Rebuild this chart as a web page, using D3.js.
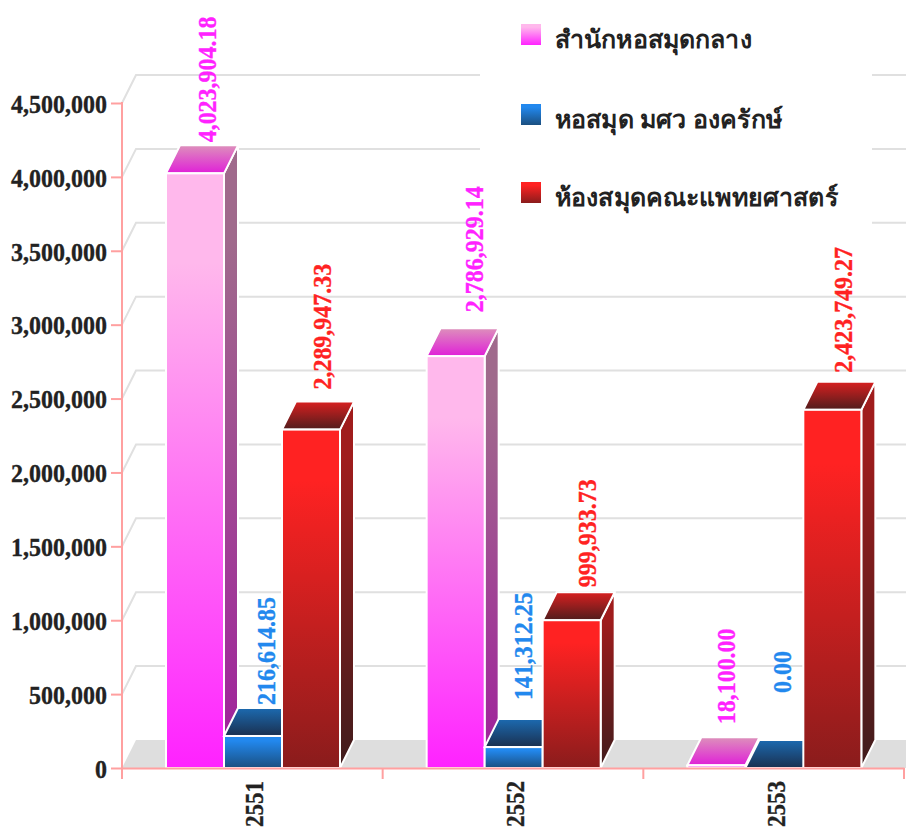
<!DOCTYPE html>
<html><head><meta charset="utf-8">
<script src="https://cdn.jsdelivr.net/npm/d3@7/dist/d3.min.js"></script>
<style>html,body{margin:0;padding:0;background:#fff;overflow:hidden}svg{display:block}
text{font-family:"Liberation Serif","Noto Sans",serif;font-weight:bold}</style>
</head><body><svg id="c" width="906" height="828"></svg>
<script>
const years = ["2551","2552","2553"];
const seriesNames = ["สำนักหอสมุดกลาง","หอสมุด มศว องครักษ์","ห้องสมุดคณะแพทยศาสตร์"];
const centralLibrary = [4023904.18,2786929.14,18100.00];
const ongkharakLibrary = [216614.85,141312.25,0.00];
const medicineLibrary = [2289947.33,999933.73,2423749.27];
const seriesValues = [centralLibrary,ongkharakLibrary,medicineLibrary];
const yTicks = [0,500000,1000000,1500000,2000000,2500000,3000000,3500000,4000000,4500000];
const labelColors = ["#ff22ff","#2288ee","#ff2222"];
// label placement tweaks relative to each bar: [sideways shift, gap above the bar]
const labelNudge = [
 [[-1,3],[5,16],[-3,13]],
 [[0,3],[-4,19],[-5,47]],
 [[-2,12],[2,5],[-2,9]]
];
const palette = [
 {front:["#ffb8ec","#ff22ff"],top:["#dd90bb","#e020d8"],side:["#a06a8c","#a0209c"]},
 {front:["#2288ee","#1a4f80"],top:["#1c6ab0","#1a3050"],side:["#1c6ab0","#1a3050"]},
 {front:["#ff2222","#8a1c1c"],top:["#d82020","#501c1c"],side:["#a01c1c","#401c1c"]}
];
const DX=14, DY=-28;
const svg=d3.select("#c");
const y=d3.scaleLinear().domain([0,4500000]).range([768,103]);
const x=d3.scaleBand().domain(years).range([122,904]);
const s=d3.scaleBand().domain(d3.range(3)).range([44,218]);
const defs=svg.append("defs");
palette.forEach((p,i)=>["front","top","side"].forEach(f=>{
  const g=defs.append("linearGradient").attr("id",`g${i}${f}`).attr("x1",0).attr("x2",0).attr("y1",0).attr("y2",1);
  g.append("stop").attr("offset",0).attr("stop-color",p[f][0]);
  if(f!=="top") g.append("stop").attr("offset",0.15).attr("stop-color",p[f][0]);
  g.append("stop").attr("offset",1).attr("stop-color",p[f][1]);
}));
// floor
svg.append("polygon").attr("fill","#dedede")
 .attr("points",[[122,y(0)],[122+DX,y(0)+DY],[906,y(0)+DY],[906,y(0)]].join(" "));
// grid
const grid=svg.append("g").attr("fill","none").attr("stroke","#e0e0e0").attr("stroke-width",2);
yTicks.slice(1).forEach(t=>{
  grid.append("polyline").attr("points",[[122,y(t)],[122+DX,y(t)+DY],[906,y(t)+DY]].join(" "));
});
// legend backing
svg.append("rect").attr("x",480).attr("y",0).attr("width",392).attr("height",235).attr("fill","#fff");
// bars
const textSquash=0.923;
years.forEach((yr,gi)=>{
  seriesValues.forEach((vals,si)=>{
    const v=vals[gi], x0=x(yr)+s(si), w=s.bandwidth(), yt=y(v), yb=y(0);
    const g=svg.append("g");
    const halo=(sel)=>sel.attr("stroke","#fff").attr("stroke-width",2).attr("stroke-linejoin","miter");
    if(v>0){
      g.append("polygon").attr("points",[[x0+w,yt],[x0+w+DX,yt+DY],[x0+w+DX,yb+DY],[x0+w,yb]].join(" "))
        .attr("fill",`url(#g${si}side)`).call(halo);
    }
    g.append("polygon").attr("points",[[x0,yt],[x0+DX,yt+DY],[x0+w+DX,yt+DY],[x0+w,yt]].join(" "))
      .attr("fill",`url(#g${si}top)`).call(halo);
    if(v>0){
      g.append("rect").attr("x",x0).attr("y",yt).attr("width",w).attr("height",yb-yt)
        .attr("fill",`url(#g${si}front)`).call(halo);
    }
    const [nx,gap]=labelNudge[si][gi];
    svg.append("text").attr("transform",`translate(${x0+w/2+DX+8+nx},${yt+DY-gap}) rotate(-90) scale(${textSquash},1)`)
      .attr("font-size",26).attr("fill",labelColors[si]).attr("stroke",labelColors[si]).attr("stroke-width",0.35)
      .text(d3.format(",.2f")(v));
  });
});
// axes
const yAxis=svg.append("g").attr("transform","translate(122,0)")
  .call(d3.axisLeft(y).tickValues(yTicks).tickFormat(d3.format(",")).tickSize(11).tickSizeOuter(0));
yAxis.select("path").remove();
yAxis.selectAll("line").attr("stroke","#ffa0a0").attr("stroke-width",2);
yAxis.append("line").attr("x1",0).attr("x2",0).attr("y1",y(4500000)-1).attr("y2",y(0)+11)
  .attr("stroke","#ffa0a0").attr("stroke-width",2);
yAxis.selectAll("text").attr("font-size",26).attr("fill","#222").attr("stroke","#222").attr("stroke-width",0.35)
  .attr("font-family","Liberation Serif")
  .attr("x",0).attr("transform",`translate(-15,1) scale(${textSquash},1)`);
const xAxis=svg.append("g").attr("transform",`translate(0,${y(0)})`)
  .call(d3.axisBottom(x).tickSize(0).tickSizeOuter(0).tickPadding(0));
xAxis.select("path").attr("stroke","#ffa0a0").attr("stroke-width",2);
xAxis.selectAll("text").attr("font-size",26).attr("fill","#222").attr("stroke","#222").attr("stroke-width",0.35)
  .attr("font-family","Liberation Serif")
  .attr("text-anchor","start").attr("dy",0).attr("y",0)
  .attr("transform","translate(11,59) rotate(-90) scale(0.885,1)");
d3.range(4).forEach(i=>xAxis.append("line").attr("x1",122+i*x.step()).attr("x2",122+i*x.step())
  .attr("y1",0).attr("y2",11).attr("stroke","#ffa0a0").attr("stroke-width",2));
// legend
const legendTop=[24,104,182];
seriesNames.forEach((n,i)=>{
  const l=svg.append("g").attr("transform",`translate(521,${legendTop[i]})`);
  l.append("rect").attr("width",20).attr("height",21).attr("fill",`url(#g${i}front)`);
  l.append("text").attr("x",34).attr("y",24).attr("font-size",25).attr("letter-spacing",0.15).attr("fill","#222").text(n);
});
</script></body></html>
